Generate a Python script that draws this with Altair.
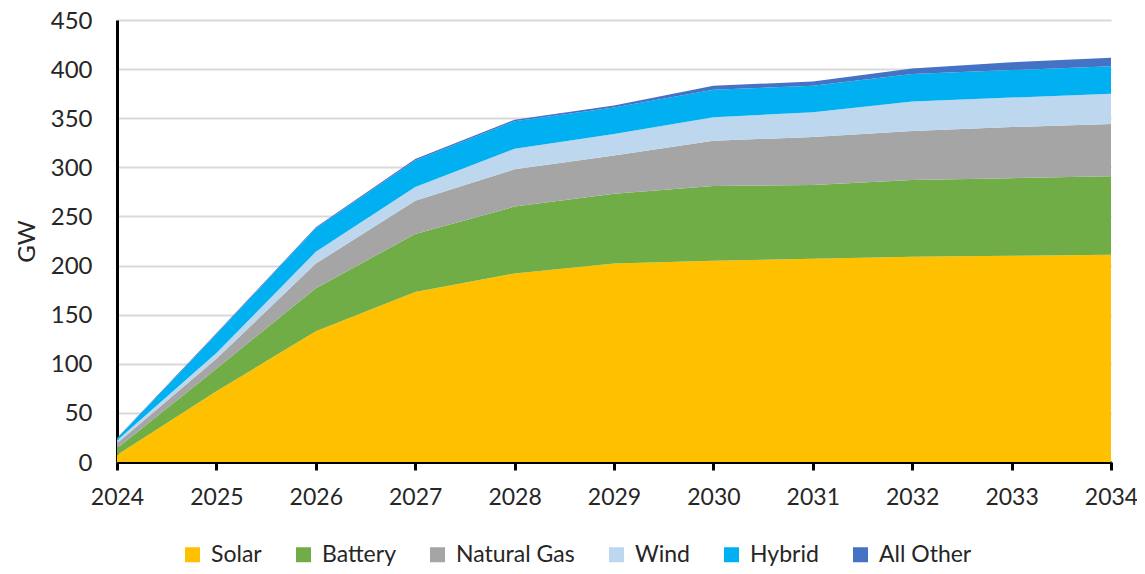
import altair as alt
import pandas as pd

years = [2024, 2025, 2026, 2027, 2028, 2029, 2030, 2031, 2032, 2033, 2034]
solar = [7, 72, 133, 173, 192, 202, 205, 207, 209, 210, 211]
battery = [7, 23, 44, 59, 68, 71, 76, 75, 78, 79, 80]
natural_gas = [5, 10, 25, 34, 38, 39, 46, 49, 50, 52, 53]
wind = [3, 6, 12, 14, 21, 22, 24, 25, 30, 30, 31]
hybrid = [2, 19, 24, 27, 28, 27, 28, 27, 28, 28, 28]
all_other = [0.5, 1, 1, 1.5, 1.5, 2, 4, 4.5, 5.5, 8, 8.5]

series = ["Solar", "Battery", "Natural Gas", "Wind", "Hybrid", "All Other"]
colors = ["#FFC000", "#70AD47", "#A5A5A5", "#BDD7EE", "#00B0F0", "#4472C4"]
values = [solar, battery, natural_gas, wind, hybrid, all_other]

rows = []
for i, (name, vals) in enumerate(zip(series, values)):
    for y, v in zip(years, vals):
        rows.append({"Year": y, "Type": name, "GW": v, "ord": i})
df = pd.DataFrame(rows)

FONT = "Lato"
TXT = "#262626"
FS = 24

chart = alt.Chart(df).mark_area(opacity=1, strokeWidth=0).encode(
    x=alt.X("Year:Q",
            scale=alt.Scale(domain=[2024, 2034], nice=False, zero=False),
            axis=alt.Axis(values=years, format="d", title=None, grid=False,
                          domainColor="black", domainWidth=3,
                          ticks=True, tickColor="black", tickWidth=3, tickSize=8,
                          labelFontSize=23, labelFont=FONT, labelColor=TXT,
                          labelPadding=16, labelFlush=False)),
    y=alt.Y("GW:Q", stack="zero",
            scale=alt.Scale(domain=[0, 450], nice=False),
            axis=alt.Axis(values=list(range(0, 451, 50)), title="GW",
                          grid=True, gridColor="#D9D9D9", gridWidth=2,
                          domainColor="black", domainWidth=3,
                          ticks=False, tickSize=0,
                          labelFontSize=FS, labelFont=FONT, labelColor=TXT,
                          labelPadding=25, labelOffset=1,
                          titleFontSize=FS, titleFont=FONT, titleColor=TXT,
                          titleFontWeight="normal", titlePadding=11)),
    color=alt.Color("Type:N",
                    scale=alt.Scale(domain=series, range=colors),
                    legend=alt.Legend(orient="none", direction="horizontal",
                                      legendX=64, legendY=523, title=None,
                                      symbolType="square", symbolSize=225,
                                      symbolStrokeWidth=0, symbolOpacity=1,
                                      labelFontSize=23, labelFont=FONT,
                                      labelColor=TXT, columnPadding=30,
                                      labelOffset=7)),
    order=alt.Order("ord:Q", sort="ascending"),
).properties(
    width=994, height=442,
    autosize=alt.AutoSizeParams(type="none"),
    padding={"left": 109, "top": 12, "right": 26, "bottom": 104},
).configure_view(stroke=None)

chart.save("out.html", embed_options={"renderer": "svg", "actions": False})
